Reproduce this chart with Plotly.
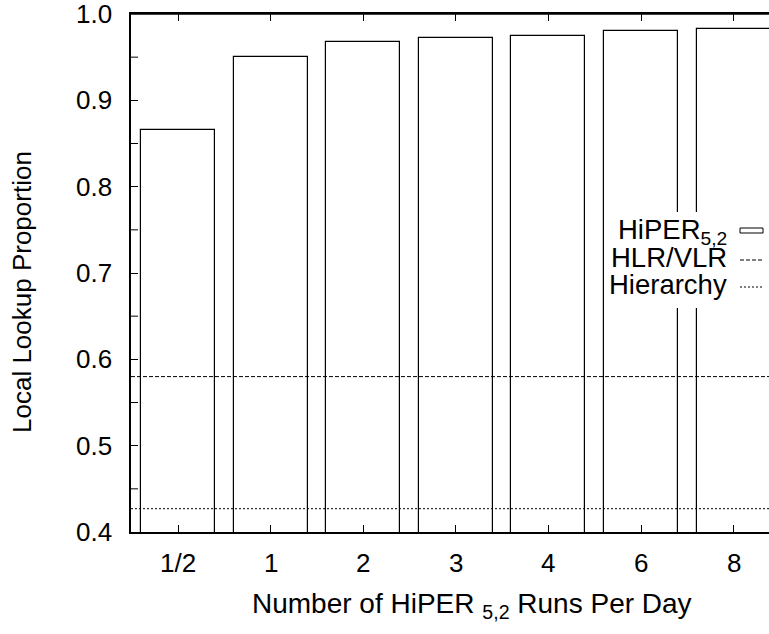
import plotly.graph_objects as go

# Runs per day (category labels) and the share of lookups resolved locally
run_labels = ["1/2", "1", "2", "3", "4", "6", "8"]
hiper_local = [0.866, 0.950, 0.967, 0.972, 0.975, 0.980, 0.983]

# Baselines drawn as horizontal reference lines
hlr_vlr_local = 0.580
hierarchy_local = 0.427

# y-axis ticks
y_major = [0.4, 0.5, 0.6, 0.7, 0.8, 0.9, 1.0]
y_major_text = ["0.4", "0.5", "0.6", "0.7", "0.8", "0.9", "1.0"]
y_minor = [0.45, 0.55, 0.65, 0.75, 0.85, 0.95]

FONT = "Liberation Sans, Arial, Helvetica, sans-serif"
FS = 26
FS_KEY = 27.5
FS_XTITLE = 28

W, H = 769, 634
ML, MR, MT, MB = 131, 0, 14, 102
PW, PH = W - ML - MR, H - MT - MB


def dx(px):
    """pixel x -> x-domain fraction"""
    return (px - ML) / PW


def dy(py):
    """pixel y -> y-domain fraction"""
    return (H - MB - py) / PH


idx = list(range(len(run_labels)))

fig = go.Figure()
fig.add_trace(go.Bar(
    x=idx, y=hiper_local, width=0.8,
    marker=dict(color="white", line=dict(color="black", width=1.2)),
    showlegend=False, hoverinfo="skip",
))

fig.add_hline(y=hlr_vlr_local, line=dict(color="black", width=1, dash="4px,2px"))
fig.add_hline(y=hierarchy_local, line=dict(color="black", width=1, dash="2px,2px"))

# Minor ticks on the left axis
for v in y_minor:
    fig.add_shape(type="line", xref="x domain", yref="y",
                  x0=0, x1=7 / PW, y0=v, y1=v,
                  line=dict(color="black", width=1))

# Top border of the plot frame
fig.add_shape(type="line", xref="x domain", yref="y domain",
              x0=0, x1=1, y0=1, y1=1, line=dict(color="black", width=1.5))

# y tick labels, right-aligned next to the axis
for v, t in zip(y_major, y_major_text):
    fig.add_annotation(xref="x domain", yref="y", x=dx(114), y=v, text=t,
                       showarrow=False, xanchor="right", yanchor="middle",
                       font=dict(family=FONT, size=FS, color="black"))

# x tick labels under each bar group
for i, t in zip(idx, run_labels):
    fig.add_annotation(xref="x", yref="y domain", x=i, y=dy(563), text=t,
                       showarrow=False, xanchor="center", yanchor="middle",
                       font=dict(family=FONT, size=FS, color="black"))

# Key box (white panel on top of the bars)
fig.add_shape(type="rect", xref="x domain", yref="y domain",
              x0=dx(607), x1=1.0, y0=dy(308), y1=dy(212),
              fillcolor="white", line=dict(width=0), layer="above")

key_items = [
    ("HiPER<sub>5,2</sub>", "box", 230),
    ("HLR/VLR", "4px,2px", 256),
    ("Hierarchy", "2px,2px", 283),
]
for text, style, yc in key_items:
    fig.add_annotation(xref="x domain", yref="y domain", x=dx(729), y=dy(yc + 1),
                       text=text, showarrow=False, xanchor="right", yanchor="middle",
                       font=dict(family=FONT, size=FS_KEY, color="black"))
    if style == "box":
        fig.add_shape(type="rect", xref="x domain", yref="y domain",
                      x0=dx(740), x1=dx(763), y0=dy(233), y1=dy(228),
                      fillcolor="white", line=dict(color="black", width=1))
    else:
        ys = dy(yc + 4)
        fig.add_shape(type="line", xref="x domain", yref="y domain",
                      x0=dx(740), x1=dx(764), y0=ys, y1=ys,
                      line=dict(color="black", width=1, dash=style))

# Axis titles
fig.add_annotation(xref="paper", yref="paper", x=(472 - ML) / PW, y=-(605 - MT - PH) / PH,
                   text="Number of HiPER <sub>5,2</sub> Runs Per Day", showarrow=False,
                   xanchor="center", yanchor="middle",
                   font=dict(family=FONT, size=FS_XTITLE, color="black"))
fig.add_annotation(xref="paper", yref="paper", x=-(ML - 22) / PW, y=dy(292),
                   text="Local Lookup Proportion", showarrow=False, textangle=-90,
                   xanchor="center", yanchor="middle",
                   font=dict(family=FONT, size=FS, color="black"))

x_lo = -47 / 92.6
x_hi = (W - MR - 178) / 92.6

fig.update_xaxes(
    range=[x_lo, x_hi], tickvals=idx, showticklabels=False,
    showline=True, linecolor="black", linewidth=1.5, mirror="ticks",
    ticks="inside", ticklen=7, tickwidth=1, tickcolor="black",
    showgrid=False, zeroline=False,
)
fig.update_yaxes(
    range=[0.4, 1.0], tickvals=y_major, showticklabels=False,
    showline=True, linecolor="black", linewidth=1.5, mirror=False,
    ticks="inside", ticklen=7, tickwidth=1, tickcolor="black",
    showgrid=False, zeroline=False,
)

fig.update_layout(
    width=W, height=H,
    margin=dict(l=ML, r=MR, t=MT, b=MB),
    paper_bgcolor="white", plot_bgcolor="white",
    bargap=0, showlegend=False,
)

fig.write_html("out.html")
